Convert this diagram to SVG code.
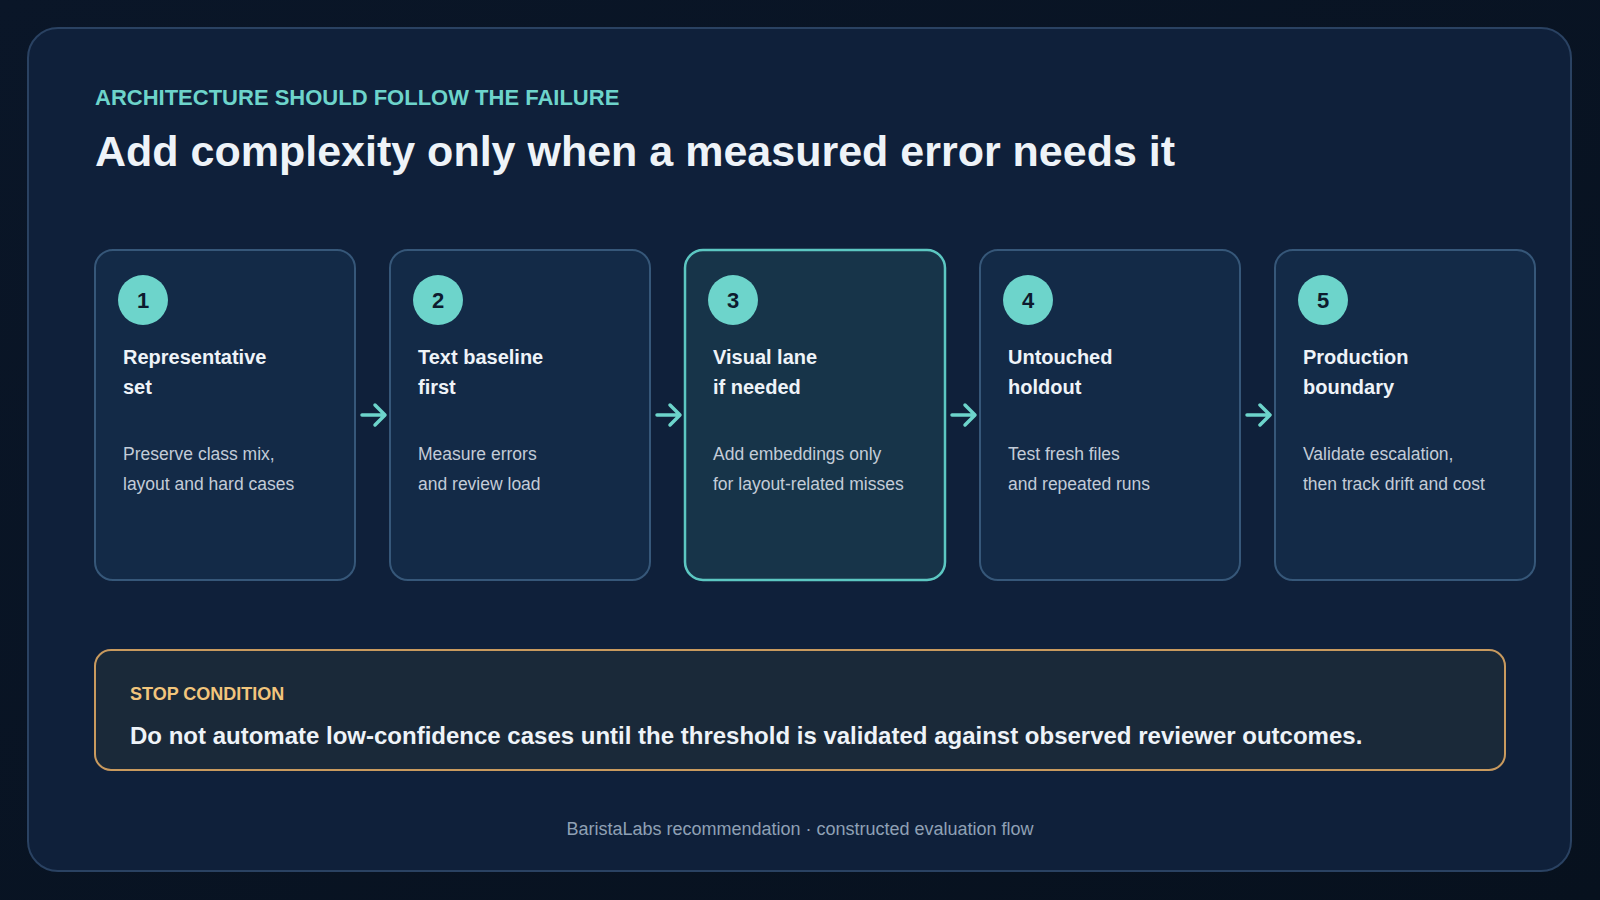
<svg xmlns="http://www.w3.org/2000/svg" width="1600" height="900" viewBox="0 0 1600 900">
<defs>
<style>
text{font-family:"Liberation Sans",Arial,sans-serif}
.card{fill:#132a47;stroke:#365779;stroke-width:2}
.hl{fill:#173449;stroke:#5cc7c2;stroke-width:2.5}
.num{fill:#6dd4cb}
.nt{fill:#0d1b2e;font-size:22px;font-weight:bold;text-anchor:middle}
.ct{fill:#eef3f8;font-size:20px;font-weight:bold}
.cb{fill:#c3ccd8;font-size:17.5px}
.arr{stroke:#6dd4cb;stroke-width:3.5;fill:none;stroke-linecap:round;stroke-linejoin:round}
</style>
<linearGradient id="bg" x1="0" y1="0" x2="1" y2="1"><stop offset="0" stop-color="#0a1628"/><stop offset="1" stop-color="#07111e"/></linearGradient>
</defs>
<rect width="1600" height="900" fill="url(#bg)"/>
<rect x="28" y="28" width="1543" height="843" rx="30" fill="#0f203a" stroke="#2a4262" stroke-width="2"/>
<text x="95" y="105" font-size="22" font-weight="bold" fill="#6dd4cb">ARCHITECTURE SHOULD FOLLOW THE FAILURE</text>
<text x="95" y="166" font-size="43" font-weight="bold" fill="#eef3f8">Add complexity only when a measured error needs it</text>
<g id="node1"><rect class="card" x="95" y="250" width="260" height="330" rx="18"/><circle class="num" cx="143" cy="300" r="25"/><text class="nt" x="143" y="308">1</text><text class="ct" x="123" y="364">Representative</text><text class="ct" x="123" y="394">set</text><text class="cb" x="123" y="460">Preserve class mix,</text><text class="cb" x="123" y="490">layout and hard cases</text></g>
<g id="node2"><rect class="card" x="390" y="250" width="260" height="330" rx="18"/><circle class="num" cx="438" cy="300" r="25"/><text class="nt" x="438" y="308">2</text><text class="ct" x="418" y="364">Text baseline</text><text class="ct" x="418" y="394">first</text><text class="cb" x="418" y="460">Measure errors</text><text class="cb" x="418" y="490">and review load</text></g>
<g id="node3"><rect class="hl" x="685" y="250" width="260" height="330" rx="18"/><circle class="num" cx="733" cy="300" r="25"/><text class="nt" x="733" y="308">3</text><text class="ct" x="713" y="364">Visual lane</text><text class="ct" x="713" y="394">if needed</text><text class="cb" x="713" y="460">Add embeddings only</text><text class="cb" x="713" y="490">for layout-related misses</text></g>
<g id="node4"><rect class="card" x="980" y="250" width="260" height="330" rx="18"/><circle class="num" cx="1028" cy="300" r="25"/><text class="nt" x="1028" y="308">4</text><text class="ct" x="1008" y="364">Untouched</text><text class="ct" x="1008" y="394">holdout</text><text class="cb" x="1008" y="460">Test fresh files</text><text class="cb" x="1008" y="490">and repeated runs</text></g>
<g id="node5"><rect class="card" x="1275" y="250" width="260" height="330" rx="18"/><circle class="num" cx="1323" cy="300" r="25"/><text class="nt" x="1323" y="308">5</text><text class="ct" x="1303" y="364">Production</text><text class="ct" x="1303" y="394">boundary</text><text class="cb" x="1303" y="460">Validate escalation,</text><text class="cb" x="1303" y="490">then track drift and cost</text></g>
<g id="connectors">
<path class="arr" d="M362 415H384M375 405L385 415L375 425"/>
<path class="arr" d="M657 415H679M670 405L680 415L670 425"/>
<path class="arr" d="M952 415H974M965 405L975 415L965 425"/>
<path class="arr" d="M1247 415H1269M1260 405L1270 415L1260 425"/>
</g>
<g id="stop"><rect x="95" y="650" width="1410" height="120" rx="16" fill="#1a2939" stroke="#c99a5e" stroke-width="2"/>
<text x="130" y="700" font-size="18" font-weight="bold" fill="#f2c57c">STOP CONDITION</text>
<text x="130" y="744" font-size="24" font-weight="bold" fill="#eef3f8">Do not automate low-confidence cases until the threshold is validated against observed reviewer outcomes.</text></g>
<text x="800" y="835" font-size="18" fill="#8fa0b5" text-anchor="middle">BaristaLabs recommendation · constructed evaluation flow</text>
</svg>
